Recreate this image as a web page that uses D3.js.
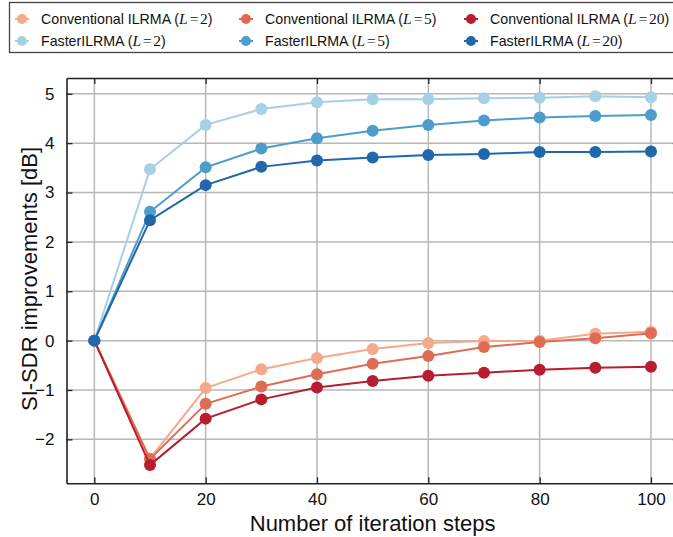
<!DOCTYPE html>
<html><head>
<meta charset="utf-8">
<script src="https://d3js.org/d3.v7.min.js"></script>
<style>
  body { margin: 0; background: #fff; }
  svg text { font-family: "Liberation Sans", Arial, Helvetica, sans-serif; }
  .math { font-family: "Liberation Serif", "DejaVu Serif", serif; }
</style>
</head>
<body>
<svg id="chart" width="673" height="537"></svg>
<script>
// data
const steps = [0, 10, 20, 30, 40, 50, 60, 70, 80, 90, 100];
const convL2  = [0, -2.39, -0.96, -0.58, -0.35, -0.17, -0.05, -0.01, 0.0, 0.14, 0.18];
const convL5  = [0, -2.40, -1.28, -0.93, -0.68, -0.47, -0.31, -0.13, -0.03, 0.05, 0.15];
const convL20 = [0, -2.52, -1.58, -1.19, -0.95, -0.82, -0.71, -0.65, -0.59, -0.55, -0.53];
const fastL2  = [0, 3.47, 4.37, 4.69, 4.83, 4.89, 4.89, 4.91, 4.92, 4.95, 4.93];
const fastL5  = [0, 2.61, 3.51, 3.89, 4.10, 4.25, 4.37, 4.46, 4.52, 4.55, 4.57];
const fastL20 = [0, 2.44, 3.15, 3.52, 3.65, 3.71, 3.76, 3.78, 3.82, 3.82, 3.83];
const xTicks = [0, 20, 40, 60, 80, 100];
const yTicks = [-2, -1, 0, 1, 2, 3, 4, 5];

// legend order: conventional row on top, faster row below
const series = [
  {name: "Conventional ILRMA", L: 2,  values: convL2,  color: "#f4a98a"},
  {name: "Conventional ILRMA", L: 5,  values: convL5,  color: "#de6c55"},
  {name: "Conventional ILRMA", L: 20, values: convL20, color: "#b61d2f"},
  {name: "FasterILRMA", L: 2,  values: fastL2,  color: "#a6d0e5"},
  {name: "FasterILRMA", L: 5,  values: fastL5,  color: "#4d9ccb"},
  {name: "FasterILRMA", L: 20, values: fastL20, color: "#2266ac"}
];

let svg = d3.select("#chart");
let margin = {top: 78, left: 66.5, bottom: 483.3, right: 678.8};

const x = d3.scaleLinear().domain([-5, 105]).range([margin.left, margin.right]);
const y = d3.scaleLinear().domain([-2.89, 5.32]).range([margin.bottom, margin.top]);

// grid
svg.append("g").selectAll("line").data(xTicks).join("line")
  .attr("x1", d => x(d)).attr("x2", d => x(d))
  .attr("y1", margin.top).attr("y2", margin.bottom)
  .attr("stroke", "#b8b8b8").attr("stroke-width", 1.5);
svg.append("g").selectAll("line").data(yTicks).join("line")
  .attr("y1", d => y(d)).attr("y2", d => y(d))
  .attr("x1", margin.left).attr("x2", margin.right)
  .attr("stroke", "#b8b8b8").attr("stroke-width", 1.5);

// axes with inward ticks
let bottomAxis = d3.axisBottom(x).tickValues(xTicks).tickSizeInner(-6).tickSizeOuter(0).tickPadding(10);
let gx = svg.append("g").attr("transform", "translate(0," + margin.bottom + ")").call(bottomAxis);
let leftAxis = d3.axisLeft(y).tickValues(yTicks).tickSizeInner(-6).tickSizeOuter(0).tickPadding(12)
  .tickFormat(d => d < 0 ? "\u2212" + Math.abs(d) : d);
let gy = svg.append("g").attr("transform", "translate(" + margin.left + ",0)").call(leftAxis);
let gt = svg.append("g").attr("transform", "translate(0," + margin.top + ")")
  .call(d3.axisTop(x).tickValues(xTicks).tickSizeInner(-6).tickSizeOuter(0).tickFormat(""));
let gr = svg.append("g").attr("transform", "translate(" + margin.right + ",0)")
  .call(d3.axisRight(y).tickValues(yTicks).tickSizeInner(-6).tickSizeOuter(0).tickFormat(""));
[gx, gy, gt, gr].forEach(g => {
  g.select(".domain").attr("stroke", "#222").attr("stroke-width", 1.6);
  g.selectAll(".tick line").attr("stroke", "#222").attr("stroke-width", 1.3);
  g.selectAll(".tick text").attr("font-size", 17).attr("fill", "#111")
    .attr("font-family", "'Liberation Sans', Arial, sans-serif");
});

// series
const line = d3.line().x((d, i) => x(steps[i])).y(d => y(d));
series.forEach(s => {
  let g = svg.append("g");
  g.append("path").datum(s.values).attr("d", line)
    .attr("fill", "none").attr("stroke", s.color).attr("stroke-width", 2);
  g.selectAll("circle").data(s.values).join("circle")
    .attr("cx", (d, i) => x(steps[i])).attr("cy", d => y(d)).attr("r", 6)
    .attr("fill", s.color);
});

// axis labels
svg.append("text").attr("x", (x(0) + x(100)) / 2).attr("y", 531)
  .attr("text-anchor", "middle").attr("font-size", 22).attr("fill", "#111")
  .text("Number of iteration steps");
svg.append("text").attr("transform", "translate(37,279) rotate(-90)")
  .attr("text-anchor", "middle").attr("font-size", 22).attr("fill", "#111")
  .text("SI-SDR improvements [dB]");

// legend
svg.append("rect").attr("x", 9.5).attr("y", 2.5).attr("width", 680).attr("height", 50)
  .attr("fill", "#fff").attr("stroke", "#444").attr("stroke-width", 1.3);
const colX = [22, 246, 471];
const rowY = [19, 41];
series.forEach((s, i) => {
  let lx = colX[i % 3], ly = rowY[Math.floor(i / 3)];
  let g = svg.append("g").attr("transform", "translate(" + lx + "," + ly + ")");
  g.append("line").attr("x1", -7).attr("x2", 7).attr("stroke", s.color).attr("stroke-width", 2);
  g.append("circle").attr("r", 5).attr("fill", s.color);
  let t = g.append("text").attr("x", 19).attr("y", 5).attr("font-size", 14.2).attr("fill", "#111");
  t.append("tspan").text(s.name + " (");
  t.append("tspan").attr("class", "math").attr("font-style", "italic").attr("font-size", 15.5).text("L");
  t.append("tspan").attr("class", "math").attr("dx", 2).attr("font-size", 15.5).text("=");
  t.append("tspan").attr("class", "math").attr("dx", 1.5).attr("font-size", 15.5).text(s.L);
  t.append("tspan").text(")");
});
</script>
</body></html>
